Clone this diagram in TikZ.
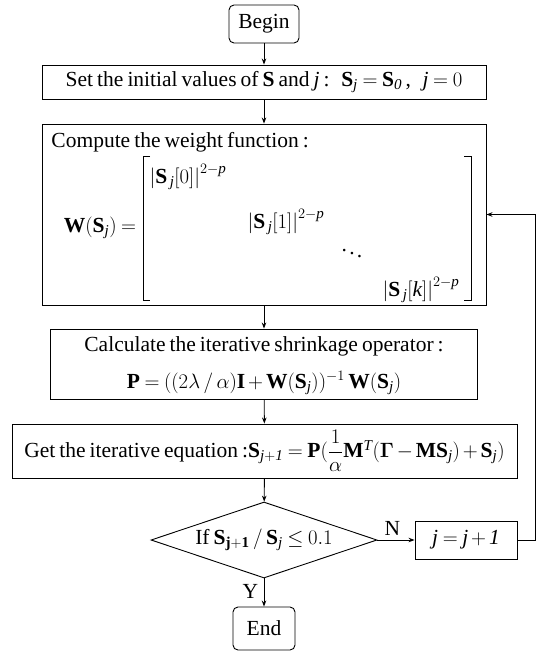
\documentclass[tikz,border=0pt]{standalone}
\usepackage{amsmath}
\usepackage{fontspec}
\setmainfont{Liberation Serif}[WordSpace=0.75]
\usetikzlibrary{shapes.geometric,arrows.meta}
\medmuskip=2.5mu plus 1mu minus 1mu
\thickmuskip=4mu plus 1mu
\begin{document}
\begin{tikzpicture}[x=1pt,y=-1pt, line width=0.9pt,
  font=\fontsize{21.5}{25}\selectfont,
  box/.style={draw, inner sep=0pt, align=center},
  rbox/.style={box, rounded corners=5pt},
  lbl/.style={inner sep=0pt},
  arr/.style={-{Stealth[length=6pt,width=4.5pt]}}]
\useasboundingbox (0,0) rectangle (543,652);
% nodes
\node[rbox, minimum width=70pt, minimum height=38pt] (begin) at (264,24) {Begin};
\node[box, minimum width=444pt, minimum height=34pt] (set) at (264,82)
  {Set the initial values of $\mathbf{S}$ and $\mathit{j}$ :\ \ \,$\mathbf{S}_{\mathit{j}}=\mathbf{S}_{\mathit{0}}$\,,\ \ \,$\mathit{j}=0$};
\node[box, minimum width=444pt, minimum height=181pt] (compute) at (264,214.5) {};
\node[lbl, anchor=west] (ctitle) at (51,142) {Compute the weight function :};
\node[lbl] (weq) at (100,228) {$\mathbf{W}(\mathbf{S}_{\mathit{j}})=$};
\node[lbl] (m0) at (188,177) {$\left|\mathbf{S}_{\,\mathit{j}}[0]\right|^{2-\mathit{p}}$};
\node[lbl] (m1) at (286,222) {$\left|\mathbf{S}_{\,\mathit{j}}[1]\right|^{2-\mathit{p}}$};
\node[lbl] (mdots) at (352,250) {$\ddots$};
\node[lbl] (mk) at (421,290) {$\left|\mathbf{S}_{\,\mathit{j}}[\mathit{k}]\right|^{2-\mathit{p}}$};
\draw (150,156) -- (143,156) -- (143,300) -- (150,300);
\draw (464,156) -- (471,156) -- (471,300) -- (464,300);
\node[box, minimum width=427pt, minimum height=70pt] (calc) at (264,364) {};
\node[lbl] (calc1) at (264,346) {Calculate the iterative shrinkage operator :};
\node[lbl] (calc2) at (264,383) {$\mathbf{P}=((2\lambda\,/\,\alpha)\mathbf{I}+\mathbf{W}(\mathbf{S}_{\mathit{j}}))^{-1}\,\mathbf{W}(\mathbf{S}_{\mathit{j}})$};
\node[box, minimum width=505pt, minimum height=54pt] (get) at (264.5,451)
  {Get the iterative equation :$\mathbf{S}_{\mathit{j+1}}=\mathbf{P}(\dfrac{1}{\alpha}\mathbf{M}^{\mathit{T}}(\boldsymbol{\Gamma}-\mathbf{M}\mathbf{S}_{\mathit{j}})+\mathbf{S}_{\mathit{j}})$};
\node[draw, diamond, inner sep=0pt, aspect=2.97, minimum width=226pt, minimum height=76pt] (dec) at (264,540) {};
\node[lbl] (dectext) at (264,540) {If $\mathbf{S}_{\mathbf{j+1}}\,/\,\mathbf{S}_{\mathit{j}}\le 0.1$};
\node[box, minimum width=102pt, minimum height=38pt] (jbox) at (466,540) {$\mathit{j}=\mathit{j}+\mathit{1}$};
\node[rbox, minimum width=62pt, minimum height=43pt] (end) at (264,628.5) {End};
\coordinate (fb) at (535,300);
% connectors
\draw[arr] (begin) -- (set);
\draw[arr] (set) -- (compute);
\draw[arr] (compute) -- (calc);
\draw[arr] (calc) -- (get);
\draw[arr] (get) -- (dec);
\draw[arr] (dec.east) -- node[above=1pt, pos=0.4] {N} (jbox.west);
\draw[arr] (dec.south) -- node[left=2pt, pos=0.45] {Y} (end.north);
\draw[arr] (jbox.east) -| (fb) |- (compute.east);
\end{tikzpicture}
\end{document}
